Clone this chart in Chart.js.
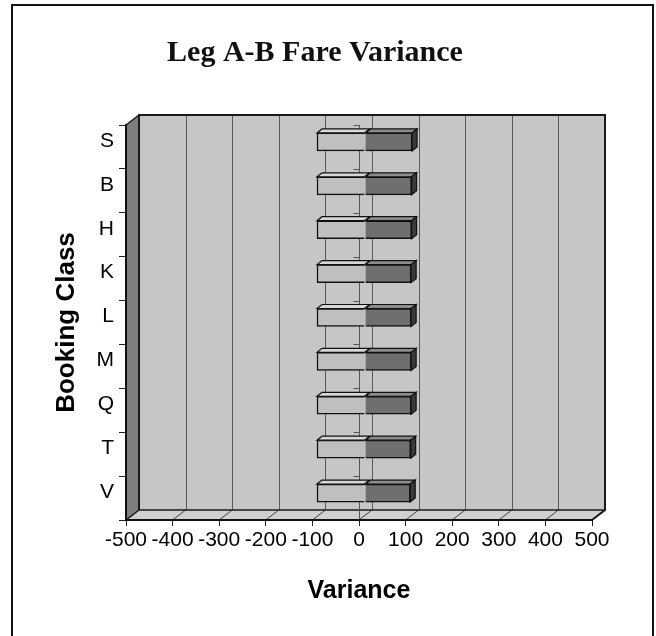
<!DOCTYPE html>
<html>
<head>
<meta charset="utf-8">
<title>Leg A-B Fare Variance</title>
<script src="https://cdn.jsdelivr.net/npm/chart.js@4.4.1/dist/chart.umd.min.js"></script>
<style>
  html, body { margin: 0; padding: 0; background: #fff; }
  canvas { display: block; }
</style>
</head>
<body>
<canvas id="fareChart" width="656" height="636"></canvas>
<script>
// data
const bookingClasses = ['S', 'B', 'H', 'K', 'L', 'M', 'Q', 'T', 'V'];
const varianceBelow = [-103, -103, -103, -103, -103, -103, -103, -103, -103];
const varianceAbove = [101, 100, 100, 99, 99, 99, 99, 98, 97];
const varianceMin = -500;
const varianceMax = 500;
const varianceStep = 100;

// 3d look
const DEPTH = {x: 13, y: -10};     // back wall offset from the front plane
const BAR_SHIFT = {x: 6, y: -5};   // bars sit half way into the box
const BAR_DEPTH = {x: 5, y: -4};   // depth of each bar

function poly(ctx, pts, fill, stroke, lw) {
    ctx.beginPath();
    ctx.moveTo(pts[0][0], pts[0][1]);
    for (let i = 1; i < pts.length; i++) ctx.lineTo(pts[i][0], pts[i][1]);
    ctx.closePath();
    if (fill) { ctx.fillStyle = fill; ctx.fill(); }
    if (stroke) { ctx.strokeStyle = stroke; ctx.lineWidth = lw || 1; ctx.stroke(); }
}

const box3d = {
    id: 'box3d',
    beforeDraw(chart) {
        const ctx = chart.ctx;
        const ca = chart.chartArea;
        const xs = chart.scales.x;
        const ys = chart.scales.y;
        ctx.save();
        ctx.fillStyle = '#fff';
        ctx.fillRect(0, 0, chart.width, chart.height);
        // outer frame
        ctx.strokeStyle = '#111';
        ctx.lineWidth = 2;
        ctx.strokeRect(12, 5, 641, 660);

        // back wall
        poly(ctx, [[ca.left + DEPTH.x, ca.top + DEPTH.y], [ca.right + DEPTH.x, ca.top + DEPTH.y],
                   [ca.right + DEPTH.x, ca.bottom + DEPTH.y], [ca.left + DEPTH.x, ca.bottom + DEPTH.y]], '#c6c6c6');
        ctx.strokeStyle = '#5a5a5a';
        ctx.lineWidth = 1;
        xs.ticks.forEach(t => {
            const px = Math.round(xs.getPixelForValue(t.value) + DEPTH.x) + 0.5;
            ctx.beginPath();
            ctx.moveTo(px, ca.top + DEPTH.y);
            ctx.lineTo(px, ca.bottom + DEPTH.y);
            ctx.stroke();
        });

        // floor
        poly(ctx, [[ca.left, ca.bottom], [ca.left + DEPTH.x, ca.bottom + DEPTH.y],
                   [ca.right + DEPTH.x, ca.bottom + DEPTH.y], [ca.right, ca.bottom]], '#d0d0d0');
        ctx.strokeStyle = '#404040';
        xs.ticks.forEach(t => {
            const px = xs.getPixelForValue(t.value);
            ctx.beginPath();
            ctx.moveTo(px, ca.bottom);
            ctx.lineTo(px + DEPTH.x, ca.bottom + DEPTH.y);
            ctx.stroke();
        });

        // side wall
        poly(ctx, [[ca.left, ca.top], [ca.left + DEPTH.x, ca.top + DEPTH.y],
                   [ca.left + DEPTH.x, ca.bottom + DEPTH.y], [ca.left, ca.bottom]], '#7e7e7e', '#1a1a1a', 1.5);

        // outline of the box
        ctx.strokeStyle = '#1a1a1a';
        ctx.lineWidth = 2;
        ctx.beginPath();
        ctx.moveTo(ca.left + DEPTH.x, ca.bottom + DEPTH.y);
        ctx.lineTo(ca.left + DEPTH.x, ca.top + DEPTH.y);
        ctx.lineTo(ca.right + DEPTH.x, ca.top + DEPTH.y);
        ctx.lineTo(ca.right + DEPTH.x, ca.bottom + DEPTH.y);
        ctx.lineTo(ca.right, ca.bottom);
        ctx.stroke();
        ctx.lineWidth = 1.5;
        ctx.beginPath();
        ctx.moveTo(ca.left + DEPTH.x, ca.bottom + DEPTH.y);
        ctx.lineTo(ca.right + DEPTH.x, ca.bottom + DEPTH.y);
        ctx.stroke();

        // value axis line at zero
        const zx = Math.round(xs.getPixelForValue(0)) + 0.5;
        ctx.strokeStyle = '#555';
        ctx.lineWidth = 1;
        ctx.beginPath();
        ctx.moveTo(zx, ca.top);
        ctx.lineTo(zx, ca.bottom);
        const step = ca.height / bookingClasses.length;
        for (let i = 0; i < bookingClasses.length; i++) {
            const py = Math.round(ys.getPixelForValue(i) - step / 2) + 0.5;
            ctx.moveTo(zx - 6, py);
            ctx.lineTo(zx, py);
        }
        ctx.stroke();
        ctx.restore();
    },
    beforeDatasetsDraw(chart) {
        chart.ctx.save();
        chart.ctx.translate(BAR_SHIFT.x, BAR_SHIFT.y);
    },
    afterDatasetsDraw(chart) {
        const ctx = chart.ctx;
        chart.data.datasets.forEach((ds, di) => {
            chart.getDatasetMeta(di).data.forEach(bar => {
                const p = bar.getProps(['x', 'base', 'y', 'height'], true);
                const l = Math.min(p.x, p.base), r = Math.max(p.x, p.base);
                const t = p.y - p.height / 2, b = p.y + p.height / 2;
                poly(ctx, [[l, t], [l + BAR_DEPTH.x, t + BAR_DEPTH.y], [r + BAR_DEPTH.x, t + BAR_DEPTH.y], [r, t]],
                     ds.topColor, '#111', 1.2);
                if (ds.sideColor) {
                    poly(ctx, [[r, t], [r + BAR_DEPTH.x, t + BAR_DEPTH.y], [r + BAR_DEPTH.x, b + BAR_DEPTH.y], [r, b]],
                         ds.sideColor, '#111', 1.2);
                }
            });
        });
        ctx.restore();
    }
};

Chart.defaults.font.family = '"Liberation Sans", Arial, sans-serif';
Chart.defaults.color = '#000';

const ctx = document.getElementById('fareChart').getContext('2d');
window.fareChart = new Chart(ctx, {
    type: 'bar',
    data: {
        labels: bookingClasses,
        datasets: [{
            label: 'Below',
            data: varianceBelow,
            backgroundColor: '#bfbfbf',
            topColor: '#d6d6d6',
            borderColor: '#111',
            borderWidth: 1.5,
            barThickness: 18
        }, {
            label: 'Above',
            data: varianceAbove,
            backgroundColor: '#6f6f6f',
            topColor: '#8c8c8c',
            sideColor: '#3a3a3a',
            borderColor: '#111',
            borderWidth: 1.5,
            barThickness: 18
        }]
    },
    options: {
        indexAxis: 'y',
        responsive: false,
        animation: false,
        layout: { padding: { left: 38, right: 64, top: 0, bottom: 0 } },
        plugins: {
            legend: { display: false },
            tooltip: { enabled: false },
            title: {
                display: true,
                text: 'Leg A-B Fare Variance',
                color: '#111',
                font: { family: '"Liberation Serif", "Times New Roman", serif', size: 30, weight: 'bold' },
                padding: { top: 35, bottom: 54 }
            }
        },
        scales: {
            x: {
                type: 'linear',
                min: varianceMin,
                max: varianceMax,
                stacked: true,
                ticks: { stepSize: varianceStep, autoSkip: false, maxRotation: 0, minRotation: 0,
                         font: { size: 21 }, padding: 2 },
                grid: { drawOnChartArea: false, tickLength: 6, color: '#222' },
                border: { color: '#111', width: 2 },
                title: { display: true, text: 'Variance', font: { size: 25, weight: 'bold' },
                         padding: { top: 0, bottom: 30 } },
                afterFit: s => { s.height = 116; }
            },
            y: {
                type: 'category',
                stacked: true,
                ticks: { font: { size: 21 }, padding: 5, labelOffset: -6 },
                grid: { drawOnChartArea: false, tickLength: 7, color: '#222' },
                border: { color: '#111', width: 2 },
                title: { display: true, text: 'Booking Class', font: { size: 26, weight: 'bold' },
                         padding: { top: 13, bottom: 0 } },
                afterFit: s => { s.width = 88; }
            }
        }
    },
    plugins: [box3d]
});
</script>
</body>
</html>
